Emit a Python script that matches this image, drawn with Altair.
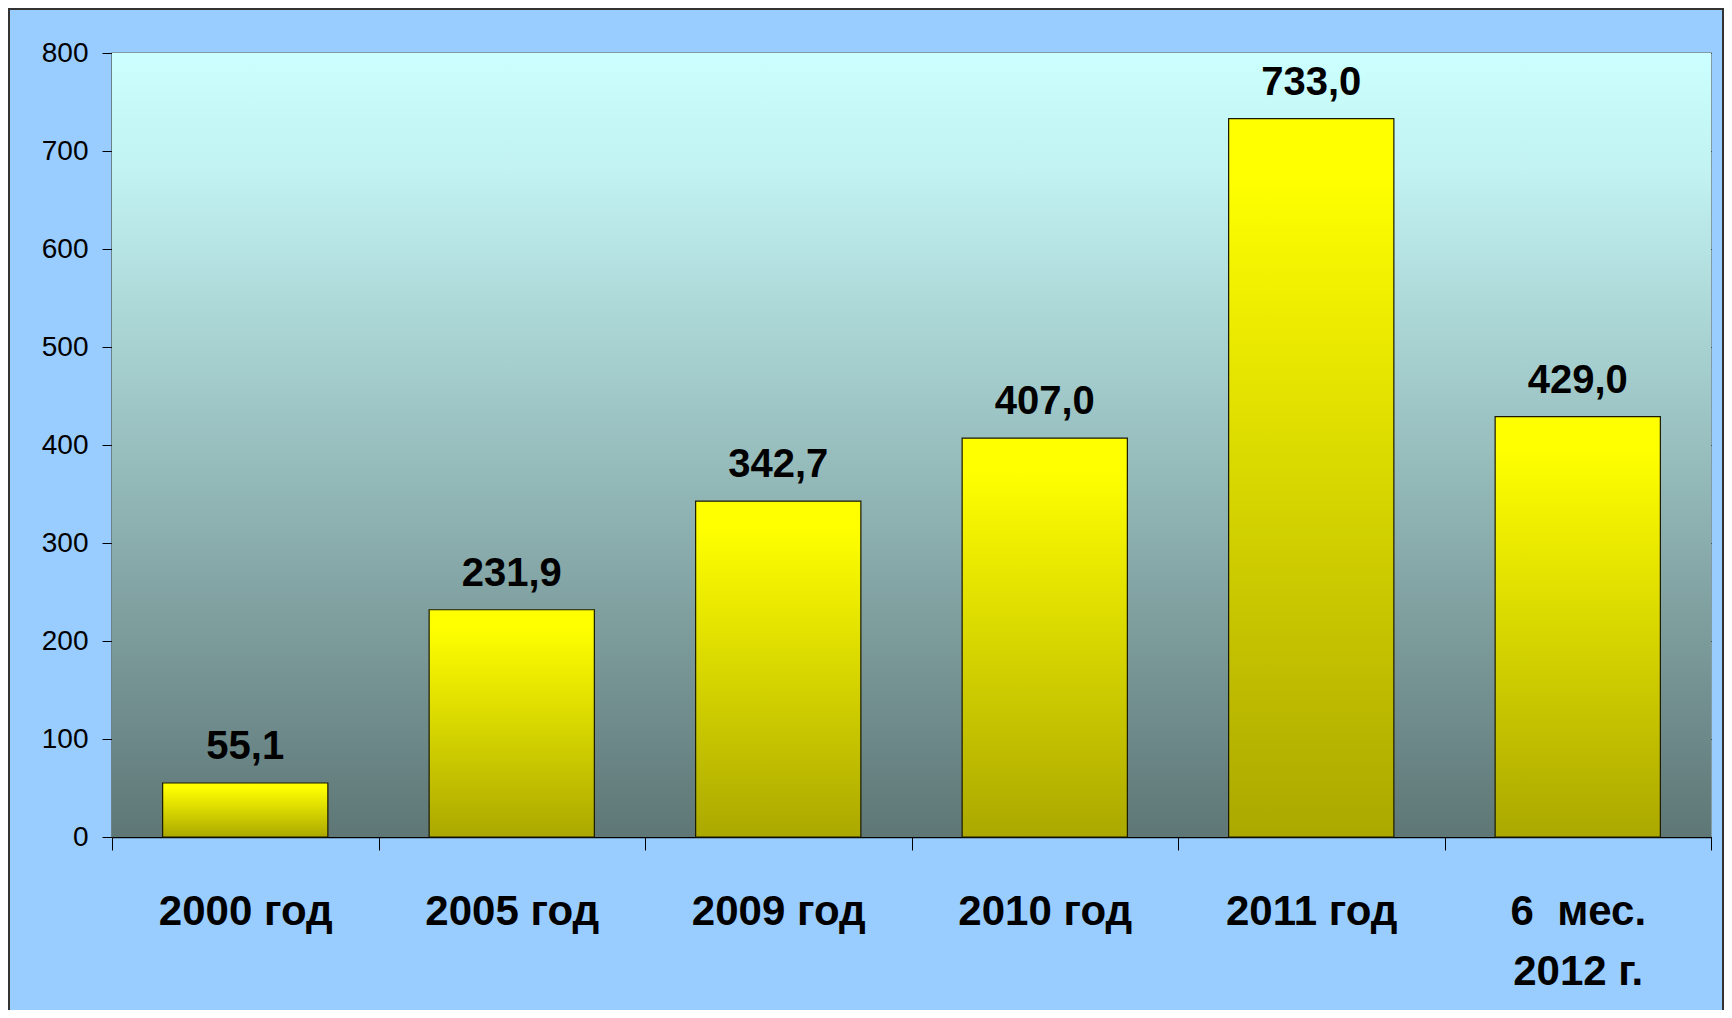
import altair as alt
import pandas as pd

categories = ["2000 год", "2005 год", "2009 год", "2010 год", "2011 год", "6 \u00a0мес.\n2012 г."]
values = [55.1, 231.9, 342.7, 407.0, 733.0, 429.0]
value_labels = ["55,1", "231,9", "342,7", "407,0", "733,0", "429,0"]
y_ticks = [0, 100, 200, 300, 400, 500, 600, 700, 800]

df = pd.DataFrame({"cat": categories, "val": values, "lab": value_labels})

W, H = 1599, 784
PAD = {"left": 104, "top": 45, "right": 13, "bottom": 173}
FONT = "Liberation Sans"

x_enc = alt.X(
    "cat:N",
    sort=categories,
    title=None,
    scale=alt.Scale(paddingInner=0, paddingOuter=0),
    axis=alt.Axis(
        labelAngle=0,
        labelFont=FONT,
        labelFontSize=42,
        labelFontWeight="bold",
        labelColor="black",
        labelPadding=41,
        labelLineHeight=60,
        labelExpr="split(datum.label, '\\n')",
        tickBand="extent",
        tickSize=13,
        tickColor="#000000",
        domainColor="#000000",
        domainWidth=1.5,
        grid=False,
    ),
)
y_enc = alt.Y(
    "val:Q",
    title=None,
    scale=alt.Scale(domain=[0, 800], nice=False),
    axis=alt.Axis(
        values=y_ticks,
        labelFont=FONT,
        labelFontSize=28,
        labelColor="black",
        labelPadding=14,
        tickSize=10,
        tickColor="#000000",
        domainColor="#333333",
        domainWidth=1.5,
        gridColor="#000000",
        gridWidth=1.2,
        gridOpacity=0.9,
    ),
)

plot_bg = alt.Chart(df).mark_rect(
    color=alt.Gradient(
        gradient="linear", x1=0, y1=0, x2=0, y2=1,
        stops=[
            alt.GradientStop(offset=0, color="#CCFFFF"),
            alt.GradientStop(offset=0.15, color="#C2F2F2"),
            alt.GradientStop(offset=1, color="#5E7676"),
        ],
    ),
).encode(x=alt.value(0), x2=alt.value(W), y=alt.value(0), y2=alt.value(H))

bars = alt.Chart(df).mark_bar(
    width=alt.RelativeBandSize(0.62),
    stroke="#1a1a00",
    strokeWidth=1.2,
    color=alt.Gradient(
        gradient="linear", x1=0, y1=0, x2=0, y2=1,
        stops=[
            alt.GradientStop(offset=0, color="#FFFF00"),
            alt.GradientStop(offset=0.08, color="#FFFF00"),
            alt.GradientStop(offset=1, color="#ABA800"),
        ],
    ),
).encode(x=x_enc, y=y_enc)

texts = alt.Chart(df).mark_text(
    font=FONT,
    fontSize=40,
    fontWeight="bold",
    color="black",
    baseline="alphabetic",
    dy=-24,
).encode(x=alt.X("cat:N", sort=categories), y=alt.Y("val:Q"), text="lab:N")

frame = alt.Chart(df).mark_rect(
    fill=None, stroke="#333333", strokeWidth=2, clip=False
).encode(
    x=alt.value(-PAD["left"] + 1),
    x2=alt.value(W + PAD["right"] - 1),
    y=alt.value(-PAD["top"] + 1),
    y2=alt.value(H + PAD["bottom"] + 20),
)

chart = (
    alt.layer(plot_bg, bars, texts, frame)
    .properties(
        width=W,
        height=H,
        padding=PAD,
        autosize=alt.AutoSizeParams(type="none"),
        background="#99CCFF",
    )
    .configure_view(stroke="#7a8a8a", strokeWidth=1.5)
)

chart.save("out.html", embed_options={"renderer": "svg", "actions": False})
